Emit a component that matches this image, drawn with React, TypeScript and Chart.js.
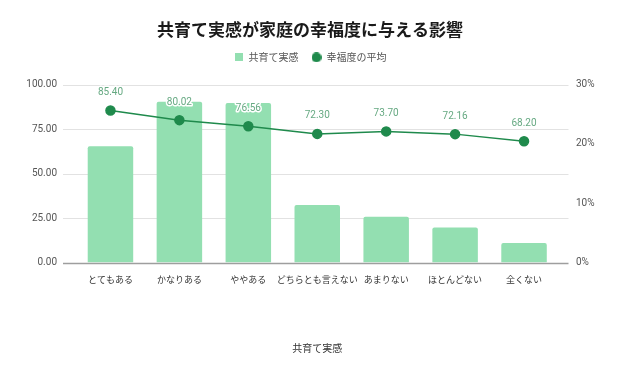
import React, { useEffect, useRef } from 'react';
import { Chart, registerables } from 'chart.js';

Chart.register(...registerables);

const categories = ['とてもある', 'かなりある', 'ややある', 'どちらとも言えない', 'あまりない', 'ほとんどない', '全くない'];
const shareValues = [19.6, 27.1, 26.9, 9.7, 7.7, 5.9, 3.3];
const happinessValues = [85.4, 80.02, 76.56, 72.3, 73.7, 72.16, 68.2];
const leftTicks = [0, 25, 50, 75, 100];

const FONT = "Roboto, 'Noto Sans CJK JP', sans-serif";
const JP = "'Noto Sans CJK JP', Roboto, sans-serif";
const BAR_COLOR = '#93dfb1';
const LINE_COLOR = '#1f8a4c';

function makeMarker(kind: 'rect' | 'circle', size: number, color: string) {
  const c = document.createElement('canvas');
  c.width = size;
  c.height = size;
  const g = c.getContext('2d')!;
  g.fillStyle = color;
  if (kind === 'rect') {
    g.fillRect(0, 0, size, size);
  } else {
    g.beginPath();
    g.arc(size / 2, size / 2, size / 2, 0, Math.PI * 2);
    g.fill();
  }
  return c;
}

const gridLines = {
  id: 'gridLines',
  beforeDatasetsDraw(chart: any) {
    const y = chart.scales.yL;
    const { left, right } = chart.chartArea;
    const ctx = chart.ctx;
    ctx.save();
    ctx.lineWidth = 1;
    leftTicks.forEach((v) => {
      if (v === 0) return;
      const py = Math.round(y.getPixelForValue(v)) + 0.5;
      ctx.strokeStyle = '#e2e2e2';
      ctx.beginPath();
      ctx.moveTo(left - 13, py);
      ctx.lineTo(right + 10, py);
      ctx.stroke();
    });
    ctx.restore();
  },
  afterDatasetsDraw(chart: any) {
    const y = chart.scales.yL;
    const { left, right } = chart.chartArea;
    const ctx = chart.ctx;
    ctx.save();
    const py = Math.round(y.getPixelForValue(0)) + 0.5;
    ctx.strokeStyle = '#9e9e9e';
    ctx.lineWidth = 1.3;
    ctx.beginPath();
    ctx.moveTo(left - 13, py);
    ctx.lineTo(right + 10, py);
    ctx.stroke();
    ctx.restore();
  },
};

const valueLabels = {
  id: 'valueLabels',
  afterDatasetsDraw(chart: any) {
    const meta = chart.getDatasetMeta(1);
    const ctx = chart.ctx;
    ctx.save();
    ctx.font = `10px ${FONT}`;
    ctx.textAlign = 'center';
    ctx.textBaseline = 'middle';
    ctx.lineJoin = 'round';
    meta.data.forEach((pt: any, i: number) => {
      const text = happinessValues[i].toFixed(2);
      const ty = pt.y - 18;
      ctx.strokeStyle = '#ffffff';
      ctx.lineWidth = 3;
      ctx.strokeText(text, pt.x, ty);
      ctx.fillStyle = '#66a982';
      ctx.fillText(text, pt.x, ty);
    });
    ctx.restore();
  },
};

export default function App() {
  const ref = useRef<HTMLCanvasElement | null>(null);

  useEffect(() => {
    if (!ref.current) return;
    const squareMarker = makeMarker('rect', 8, BAR_COLOR);
    const circleMarker = makeMarker('circle', 10, LINE_COLOR);
    const chart = new Chart(ref.current, {
      type: 'bar',
      data: {
        labels: categories,
        datasets: [
          {
            type: 'bar',
            label: '共育て実感',
            data: shareValues,
            yAxisID: 'yR',
            backgroundColor: BAR_COLOR,
            borderRadius: 2,
            borderSkipped: 'bottom',
            barPercentage: 0.66,
            categoryPercentage: 1,
            order: 2,
          } as any,
          {
            type: 'line',
            label: '幸福度の平均',
            data: happinessValues,
            yAxisID: 'yL',
            borderColor: LINE_COLOR,
            backgroundColor: LINE_COLOR,
            borderWidth: 1.5,
            pointRadius: 4.5,
            pointBackgroundColor: LINE_COLOR,
            pointBorderColor: LINE_COLOR,
            order: 1,
          } as any,
        ],
      },
      options: {
        animation: false,
        responsive: false,
        layout: { padding: 0 },
        plugins: {
          title: {
            display: true,
            text: '共育て実感が家庭の幸福度に与える影響',
            color: '#1a1a1a',
            font: { family: JP, size: 17, weight: 'bold' },
            padding: { top: 19, bottom: 0 },
          },
          subtitle: {
            display: true,
            text: ' ',
            weight: 100,
            font: { size: 1 },
            padding: { top: 0, bottom: 11 },
          },
          legend: {
            display: true,
            position: 'top',
            labels: {
              color: '#555',
              font: { family: JP, size: 10 },
              boxWidth: 10,
              boxHeight: 10,
              usePointStyle: true,
              padding: 13,
              sort: (a: any, b: any) => a.datasetIndex - b.datasetIndex,
              generateLabels: (chart: any) => {
                const items = Chart.defaults.plugins.legend.labels.generateLabels(chart);
                return items.map((it: any) => ({
                  ...it,
                  pointStyle: it.datasetIndex === 0 ? squareMarker : circleMarker,
                  lineWidth: 0,
                  strokeStyle: 'transparent',
                  fillStyle: it.datasetIndex === 0 ? BAR_COLOR : LINE_COLOR,
                }));
              },
            },
          },
          tooltip: { enabled: false },
        },
        scales: {
          x: {
            grid: { display: false },
            border: { display: false },
            ticks: {
              color: '#333',
              font: { family: JP, size: 9 },
              padding: 4,
              maxRotation: 0,
              autoSkip: false,
            },
            title: {
              display: true,
              text: '共育て実感',
              color: '#333',
              font: { family: JP, size: 10 },
              padding: { top: 0, bottom: 29 },
            },
            afterFit: (s: any) => {
              s.height = 120.5;
            },
          },
          yL: {
            position: 'left',
            min: 0,
            max: 100,
            grid: { display: false, drawTicks: false },
            border: { display: false },
            ticks: {
              stepSize: 25,
              color: '#555',
              font: { family: FONT, size: 10 },
              padding: 19,
              callback: (v: any) => Number(v).toFixed(2),
            },
            afterFit: (s: any) => {
              s.width = 76;
            },
          },
          yR: {
            position: 'right',
            min: 0,
            max: 30,
            grid: { display: false, drawTicks: false },
            border: { display: false },
            ticks: {
              stepSize: 10,
              color: '#555',
              font: { family: FONT, size: 10 },
              padding: 17.5,
              callback: (v: any) => `${v}%`,
            },
            afterFit: (s: any) => {
              s.width = 61.5;
            },
          },
        },
      } as any,
      plugins: [gridLines, valueLabels],
    });
    return () => chart.destroy();
  }, []);

  return (
    <div style={{ position: 'fixed', left: 0, top: 0, width: 620, height: 383, background: '#fff' }}>
      <canvas ref={ref} width={620} height={383} />
    </div>
  );
}
